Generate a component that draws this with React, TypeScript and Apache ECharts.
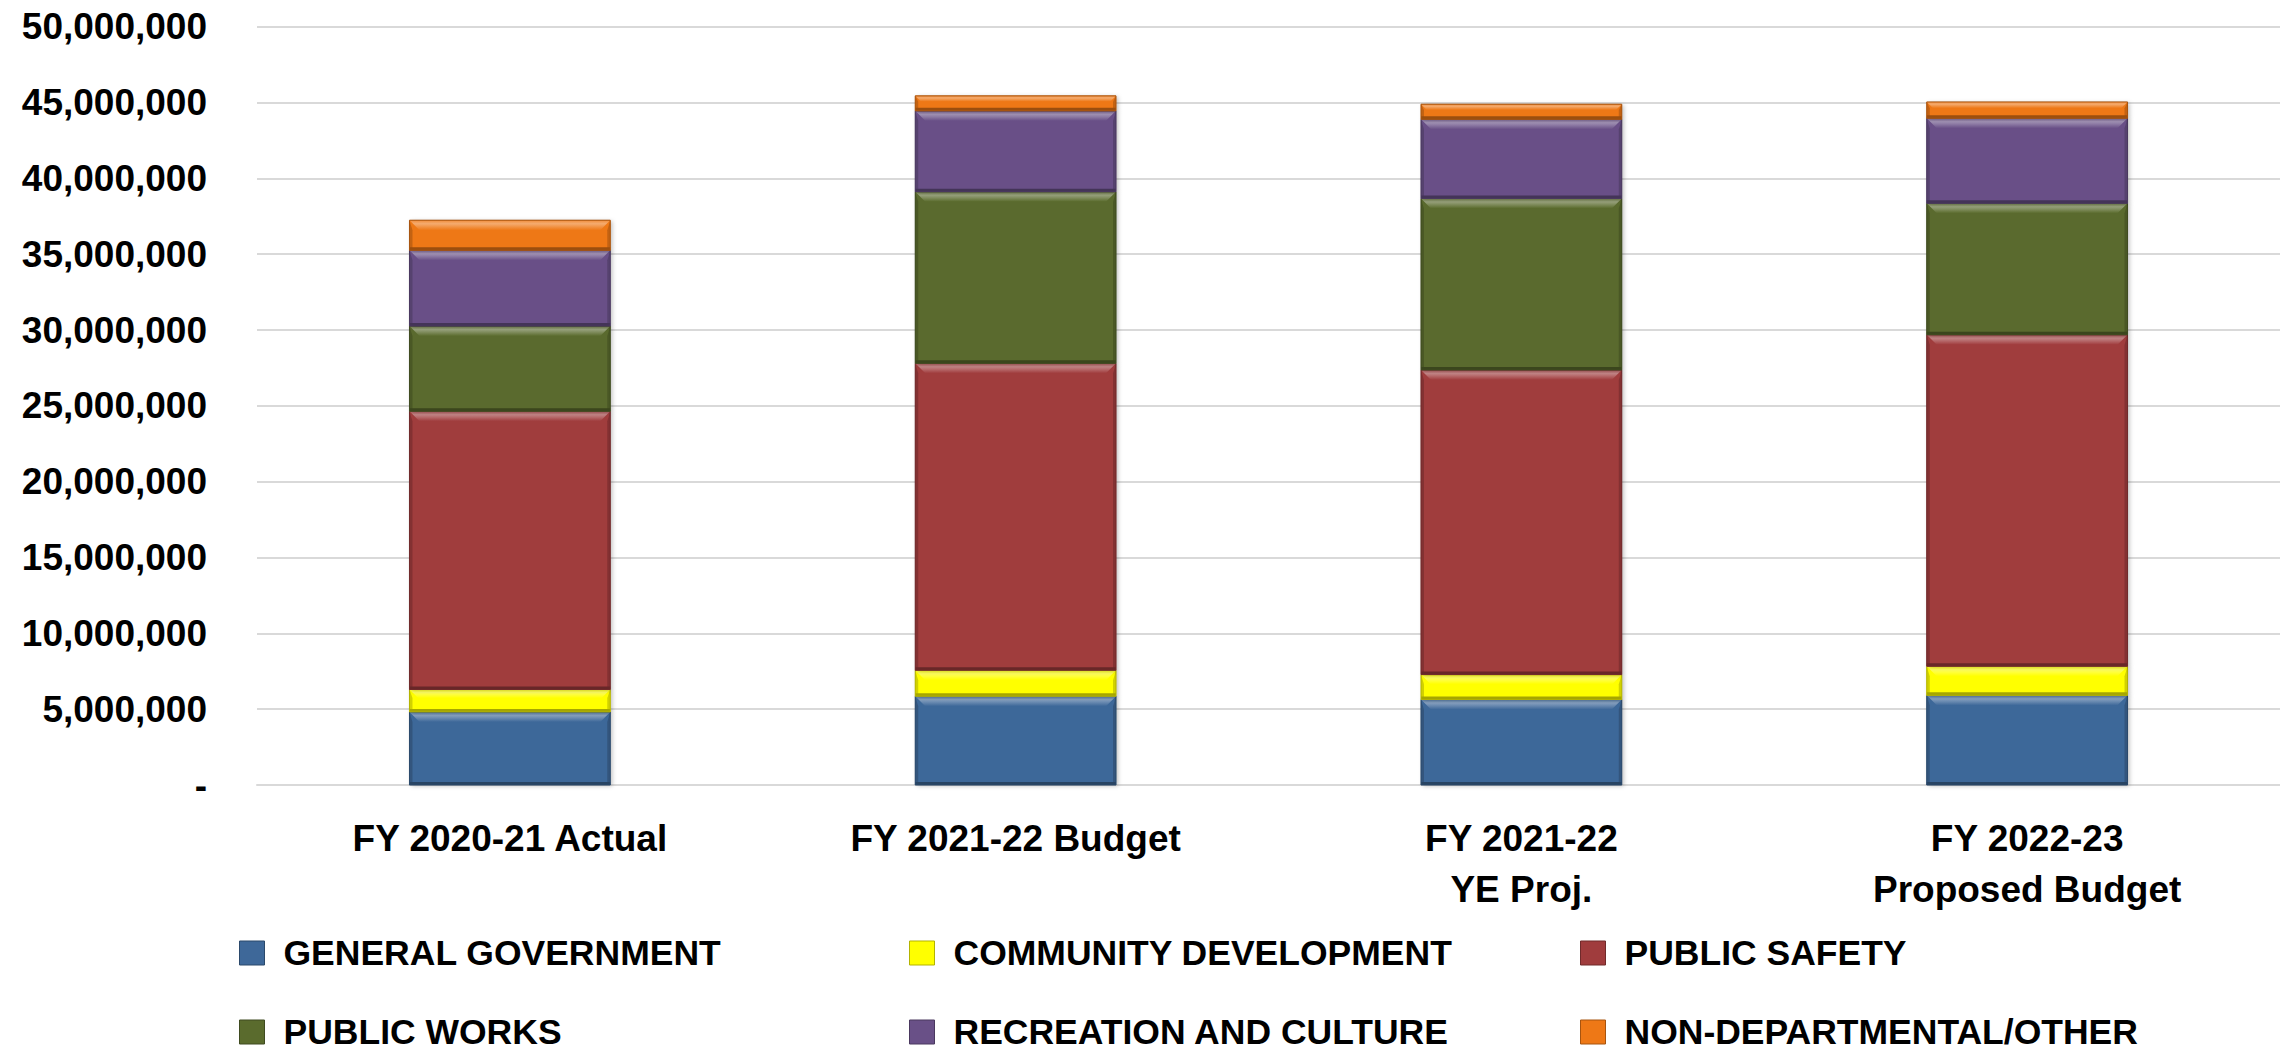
import React, { useEffect, useRef } from "react";
import * as echarts from "echarts";

const categories = [
  "FY 2020-21 Actual",
  "FY 2021-22 Budget",
  "FY 2021-22\nYE Proj.",
  "FY 2022-23\nProposed Budget",
];

const seriesNames = [
  "GENERAL GOVERNMENT",
  "COMMUNITY DEVELOPMENT",
  "PUBLIC SAFETY",
  "PUBLIC WORKS",
  "RECREATION AND CULTURE",
  "NON-DEPARTMENTAL/OTHER",
];

const generalGovernment = [4820000, 5860000, 5640000, 5910000];
const communityDevelopment = [1480000, 1710000, 1640000, 1920000];
const publicSafety = [18350000, 20240000, 20090000, 21860000];
const publicWorks = [5610000, 11310000, 11310000, 8670000];
const recreationCulture = [5000000, 5330000, 5220000, 5610000];
const nonDepartmental = [1980000, 990000, 990000, 1070000];

const yTicks = [0, 5000000, 10000000, 15000000, 20000000, 25000000, 30000000, 35000000, 40000000, 45000000, 50000000];

const seriesColors = ["#3e6899", "#ffff00", "#a03c3d", "#5a6b2d", "#695087", "#ee7816"];

const FONT = "'Liberation Sans', Arial, sans-serif";

function mix(hex: string, target: string, t: number) {
  const p = (h: string) => [1, 3, 5].map((i) => parseInt(h.slice(i, i + 2), 16));
  const a = p(hex);
  const b = p(target);
  const c = a.map((v, i) => Math.round(v + (b[i] - v) * t));
  return "#" + c.map((v) => v.toString(16).padStart(2, "0")).join("");
}

export default function App() {
  const ref = useRef<HTMLDivElement>(null);

  useEffect(() => {
    document.body.style.margin = "0";
    const chart = echarts.init(ref.current!, null, { renderer: "svg" });
    const allSeries = [
      generalGovernment,
      communityDevelopment,
      publicSafety,
      publicWorks,
      recreationCulture,
      nonDepartmental,
    ];
    const cum = categories.map(() => 0);

    const series = allSeries.map((vals, si) => {
      const color = seriesColors[si];
      const data = vals.map((v, ci) => {
        const base = cum[ci];
        cum[ci] += v;
        return [ci, base, cum[ci]];
      });
      return {
        type: "custom",
        name: seriesNames[si],
        itemStyle: { color },
        encode: { x: 0, y: [1, 2] },
        data,
        renderItem: (params: any, api: any) => {
          const idx = api.value(0);
          const p0 = api.coord([idx, api.value(1)]);
          const p1 = api.coord([idx, api.value(2)]);
          const band = api.size([1, 0])[0];
          const w = band * 0.397;
          const x = p0[0] - w / 2;
          const y = p1[1];
          const h = p0[1] - p1[1];
          const b = Math.min(10, h / 2.6);
          const light = mix(color, "#ffffff", 0.38);
          const dark = mix(color, "#000000", 0.35);
          const side = mix(color, "#000000", 0.18);
          return {
            type: "group",
            children: [
              {
                type: "rect",
                shape: { x, y, width: w, height: h },
                style: { fill: color, shadowBlur: 4, shadowColor: "rgba(0,0,0,0.25)", shadowOffsetX: 2, shadowOffsetY: 1 },
              },
              {
                type: "polygon",
                shape: { points: [[x, y], [x + 3, y + b], [x + 3, y + h - 3], [x, y + h]] },
                style: { fill: side },
              },
              {
                type: "polygon",
                shape: { points: [[x + w, y], [x + w - 3, y + b], [x + w - 3, y + h - 3], [x + w, y + h]] },
                style: { fill: side },
              },
              {
                type: "polygon",
                shape: { points: [[x, y], [x + w, y], [x + w - b, y + b], [x + b, y + b]] },
                style: {
                  fill: {
                    type: "linear",
                    x: 0,
                    y: 0,
                    x2: 0,
                    y2: 1,
                    colorStops: [
                      { offset: 0, color: mix(color, "#ffffff", 0.15) },
                      { offset: 0.35, color: light },
                      { offset: 1, color },
                    ],
                  },
                },
              },
              {
                type: "rect",
                shape: { x, y: y + h - Math.min(3, h / 4), width: w, height: Math.min(3, h / 4) },
                style: { fill: dark },
              },
              {
                type: "rect",
                shape: { x, y, width: w, height: h },
                style: { fill: "none", stroke: mix(color, "#000000", 0.3), lineWidth: 1 },
              },
            ],
          };
        },
      };
    });

    const legendCols = [239, 909, 1580];
    const legendRows = [933, 1012];
    const legends = seriesNames.map((name, i) => ({
      show: true,
      data: [name],
      left: legendCols[i % 3],
      top: legendRows[Math.floor(i / 3)],
      padding: 0,
      icon: "rect",
      itemWidth: 25,
      itemHeight: 24,
      selectedMode: false,
      itemStyle: { borderColor: mix(seriesColors[i], "#000000", 0.3), borderWidth: 1 },
      textStyle: {
        fontFamily: FONT,
        fontWeight: "bold",
        fontSize: 35.5,
        color: "#000",
        lineHeight: 40,
        padding: [0, 0, 0, 14],
      },
    }));

    chart.setOption({
      animation: false,
      backgroundColor: "#ffffff",
      grid: { left: 257, right: 0, top: 26.7, bottom: 267, containLabel: false },
      legend: legends,
      xAxis: {
        type: "category",
        data: categories,
        axisTick: { show: false },
        axisLine: { show: true, lineStyle: { color: "#d9d9d9", width: 2 } },
        axisLabel: {
          interval: 0,
          margin: 28,
          fontFamily: FONT,
          fontWeight: "bold",
          fontSize: 37,
          lineHeight: 51,
          color: "#000",
        },
      },
      yAxis: {
        type: "value",
        min: yTicks[0],
        max: yTicks[yTicks.length - 1],
        interval: yTicks[1] - yTicks[0],
        axisLine: { show: false },
        axisTick: { show: false },
        splitLine: { lineStyle: { color: "#d9d9d9", width: 2 } },
        axisLabel: {
          margin: 50,
          fontFamily: FONT,
          fontWeight: "bold",
          fontSize: 37,
          color: "#000",
          formatter: (v: number) => (v === 0 ? "-" : v.toLocaleString("en-US")),
        },
      },
      series,
    });

    return () => chart.dispose();
  }, []);

  return <div ref={ref} style={{ position: "absolute", left: 0, top: 0, width: 2280, height: 1052 }} />;
}
